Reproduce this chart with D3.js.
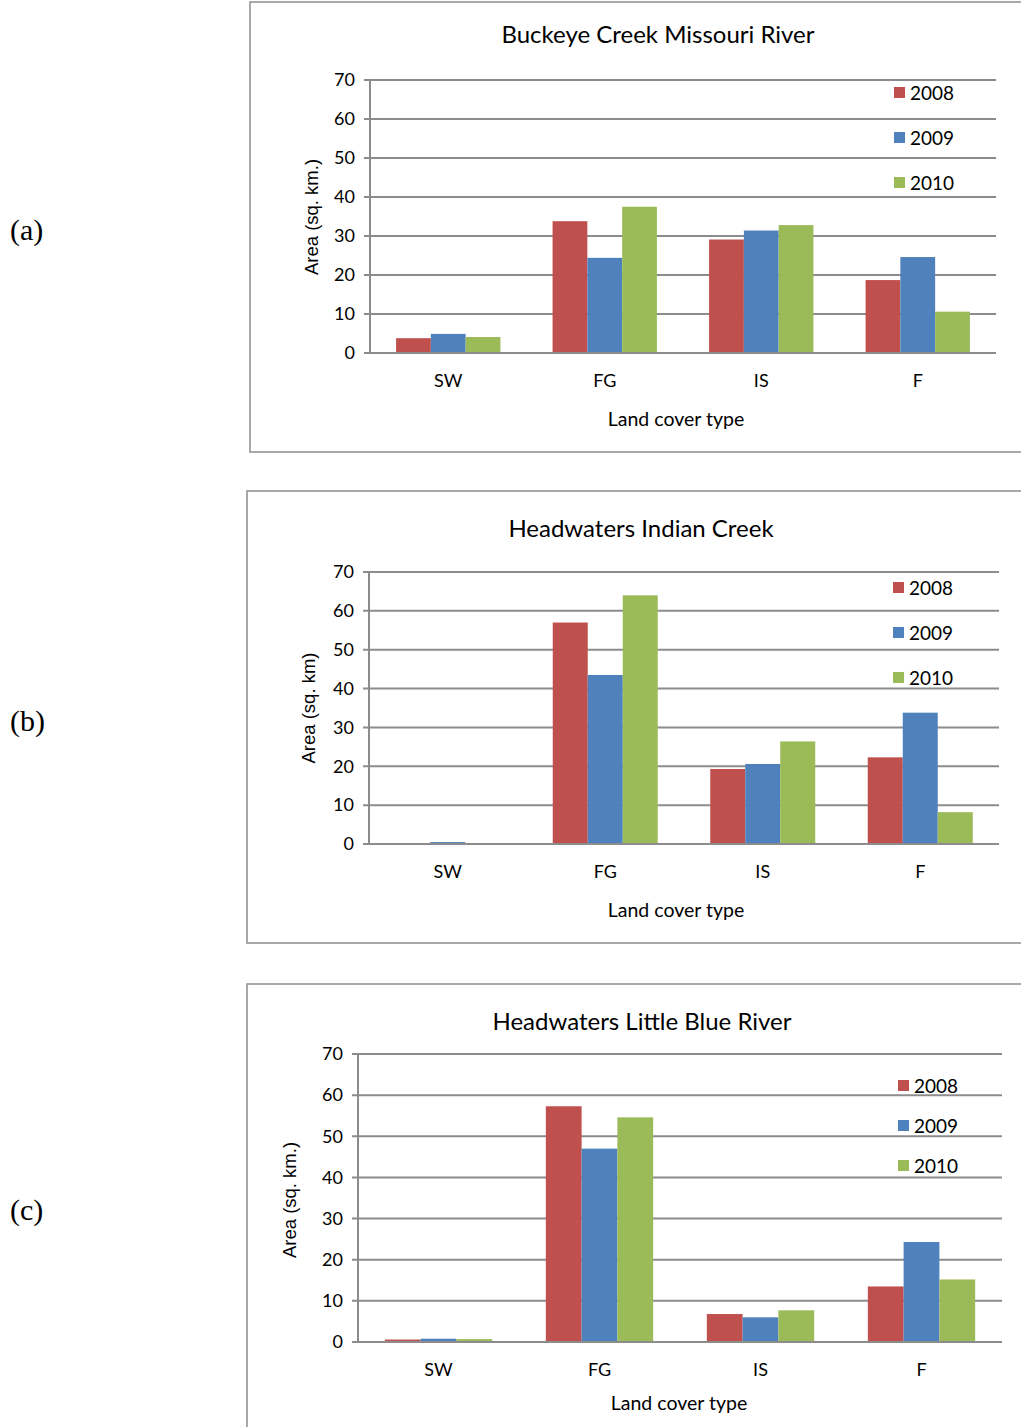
<!DOCTYPE html>
<html><head><meta charset="utf-8">
<script src="https://cdn.jsdelivr.net/npm/d3@7"></script>
<style>
html,body{margin:0;padding:0;background:#fff;}
svg{display:block;}
</style></head>
<body>
<svg id="chart" width="1021" height="1427"></svg>
<script>
// ---- data ----
const categories = ["SW", "FG", "IS", "F"];
const years = ["2008", "2009", "2010"];
const yTicks = [0, 10, 20, 30, 40, 50, 60, 70];

const buckeye2008 = [3.8, 33.8, 29.1, 18.7];
const buckeye2009 = [4.9, 24.4, 31.4, 24.6];
const buckeye2010 = [4.1, 37.5, 32.8, 10.6];

const indian2008 = [0.0, 57.0, 19.3, 22.3];
const indian2009 = [0.5, 43.5, 20.6, 33.8];
const indian2010 = [0.1, 64.0, 26.4, 8.2];

const littleBlue2008 = [0.6, 57.3, 6.8, 13.5];
const littleBlue2009 = [0.8, 47.0, 6.0, 24.3];
const littleBlue2010 = [0.7, 54.6, 7.7, 15.2];

const titles = ["Buckeye Creek Missouri River", "Headwaters Indian Creek", "Headwaters Little Blue River"];
const yTitles = ["Area (sq. km.)", "Area (sq. km)", "Area (sq. km.)"];
const panelLabels = ["(a)", "(b)", "(c)"];
const xTitle = "Land cover type";

const colors = ["#C0504D", "#4F81BD", "#9BBB59"];

const svg = d3.select("#chart");
const FONT = "Lato, 'Open Sans', sans-serif";

function drawPanel(p) {
  const g = svg.append("g");
  // frame
  g.append("rect").attr("x", p.frame[0]).attr("y", p.frame[1])
    .attr("width", p.frame[2]).attr("height", p.frame[3])
    .attr("fill", "#fff").attr("stroke", "#8c8c8c").attr("stroke-width", 1.5);

  // panel label
  svg.append("text").attr("x", 10).attr("y", p.labelY)
    .attr("font-family", "'Liberation Serif', 'Times New Roman', serif")
    .attr("font-size", 30).attr("fill", "#000").text(p.label);

  const x0 = d3.scaleBand().domain(categories).range([p.left, p.right]).paddingInner(1/3).paddingOuter(1/6);
  const x1 = d3.scaleBand().domain(years).range([0, x0.bandwidth()]);
  const y = d3.scaleLinear().domain([0, 70]).range([p.bottom, p.top]);

  // gridlines + y axis labels
  const yAxis = d3.axisLeft(y).tickValues(yTicks).tickSize(0).tickPadding(15);
  const ya = g.append("g").attr("transform", `translate(${p.left},0)`).call(yAxis);
  ya.select(".domain").remove();
  ya.selectAll("text").attr("font-family", FONT).attr("font-size", 18).attr("fill", "#000");
  g.append("g").selectAll("line").data(yTicks).join("line")
    .attr("x1", p.left - 6).attr("x2", p.right)
    .attr("y1", d => y(d)).attr("y2", d => y(d))
    .attr("stroke", "#8c8c8c").attr("stroke-width", 2);
  // y axis line
  g.append("line").attr("x1", p.left).attr("x2", p.left)
    .attr("y1", p.top).attr("y2", p.bottom)
    .attr("stroke", "#8c8c8c").attr("stroke-width", 2);

  // bars
  const series = [p.s2008, p.s2009, p.s2010];
  years.forEach((yr, k) => {
    g.append("g").selectAll("rect").data(series[k]).join("rect")
      .attr("x", (d, i) => x0(categories[i]) + x1(yr))
      .attr("y", d => y(d))
      .attr("width", x1.bandwidth())
      .attr("height", d => y(0) - y(d))
      .attr("fill", colors[k]);
  });
  // baseline on top
  g.append("line").attr("x1", p.left - 6).attr("x2", p.right)
    .attr("y1", y(0)).attr("y2", y(0))
    .attr("stroke", "#8c8c8c").attr("stroke-width", 2);

  // x labels
  const xAxis = d3.axisBottom(x0).tickSize(0).tickPadding(21);
  const xa = g.append("g").attr("transform", `translate(0,${p.bottom})`).call(xAxis);
  xa.select(".domain").remove();
  xa.selectAll("text").attr("font-family", FONT).attr("font-size", 18).attr("fill", "#000");

  // title
  g.append("text").attr("x", p.titleX).attr("y", p.titleY).attr("text-anchor", "middle")
    .attr("font-family", FONT).attr("font-size", 24).attr("fill", "#000").text(p.title);
  // x title
  g.append("text").attr("x", p.xTitleX).attr("y", p.xTitleY).attr("text-anchor", "middle")
    .attr("font-family", FONT).attr("font-size", 19.5).attr("fill", "#000").text(xTitle);
  // y title
  g.append("text").attr("transform", `translate(${p.yTitleX},${p.yTitleY}) rotate(-90)`)
    .attr("text-anchor", "middle")
    .attr("font-family", "'Liberation Sans', Arial, sans-serif").attr("font-size", 18.5)
    .attr("fill", "#000").text(p.yTitle);

  // legend
  years.forEach((yr, k) => {
    const ly = p.legendY[k];
    g.append("rect").attr("x", p.legendX).attr("y", ly - 6).attr("width", 11).attr("height", 11)
      .attr("fill", colors[k]);
    g.append("text").attr("x", p.legendX + 16).attr("y", ly + 7)
      .attr("font-family", FONT).attr("font-size", 19).attr("fill", "#000").text(yr);
  });
}

drawPanel({
  frame: [250, 2, 800, 450], label: panelLabels[0], labelY: 240,
  left: 370, right: 996, top: 80, bottom: 353,
  titleX: 658, titleY: 43, xTitleX: 676, xTitleY: 426, yTitleX: 318, yTitleY: 217,
  title: titles[0], yTitle: yTitles[0],
  legendX: 894, legendY: [93, 138, 183],
  s2008: buckeye2008, s2009: buckeye2009, s2010: buckeye2010
});
drawPanel({
  frame: [247, 491, 800, 452], label: panelLabels[1], labelY: 731,
  left: 369, right: 999, top: 572, bottom: 844,
  titleX: 641, titleY: 537, xTitleX: 676, xTitleY: 917, yTitleX: 315, yTitleY: 708,
  title: titles[1], yTitle: yTitles[1],
  legendX: 893, legendY: [588, 633, 678],
  s2008: indian2008, s2009: indian2009, s2010: indian2010
});
drawPanel({
  frame: [247, 984, 800, 460], label: panelLabels[2], labelY: 1220,
  left: 358, right: 1002, top: 1054, bottom: 1342,
  titleX: 642, titleY: 1030, xTitleX: 679, xTitleY: 1410, yTitleX: 296, yTitleY: 1200,
  title: titles[2], yTitle: yTitles[2],
  legendX: 898, legendY: [1086, 1126, 1166],
  s2008: littleBlue2008, s2009: littleBlue2009, s2010: littleBlue2010
});
</script>
</body></html>
